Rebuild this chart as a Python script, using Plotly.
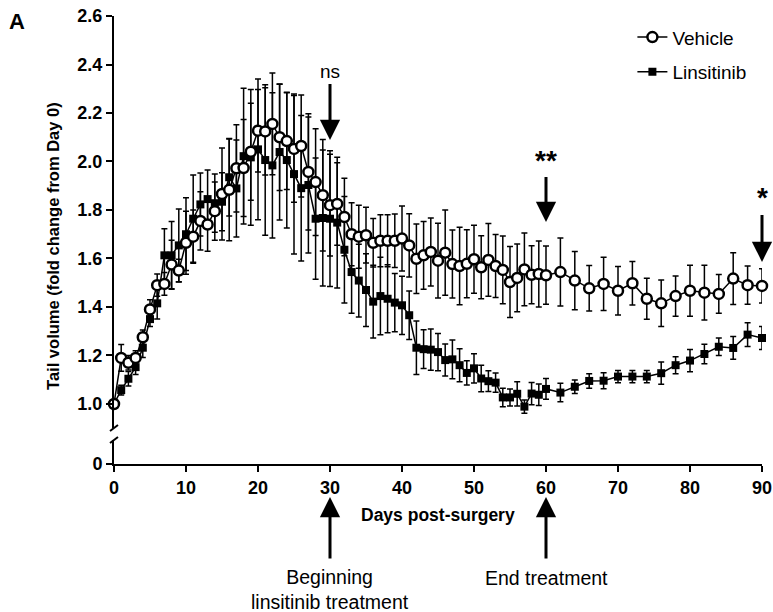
import plotly.graph_objects as go

# ---------------- data ----------------
days = list(range(0, 61)) + list(range(62, 91, 2))

vehicle = [1.0, 1.19, 1.17, 1.19, 1.275, 1.39, 1.49, 1.495, 1.575, 1.55,
           1.665, 1.69, 1.755, 1.74, 1.795, 1.866, 1.883, 1.972, 1.973, 2.04,
           2.127, 2.124, 2.155, 2.10, 2.084, 2.052, 2.064, 1.957, 1.915, 1.861,
           1.82, 1.825, 1.771, 1.70, 1.69, 1.696, 1.665, 1.673, 1.673, 1.673,
           1.682, 1.654, 1.599, 1.613, 1.627, 1.591, 1.624, 1.577, 1.569, 1.578,
           1.597, 1.564, 1.594, 1.569, 1.553, 1.503, 1.52, 1.555, 1.533, 1.536,
           1.531, 1.544, 1.509, 1.477, 1.495, 1.467, 1.498, 1.434, 1.415, 1.445,
           1.467, 1.459, 1.454, 1.517, 1.49, 1.487]
vehicle_err = [0.0, 0.055, 0.03, 0.03, 0.03, 0.04, 0.046, 0.047, 0.1, 0.047,
               0.13, 0.11, 0.12, 0.11, 0.12, 0.19, 0.21, 0.18, 0.2, 0.2,
               0.17, 0.18, 0.21, 0.22, 0.2, 0.22, 0.21, 0.24, 0.22, 0.23,
               0.21, 0.17, 0.16, 0.13, 0.13, 0.115, 0.1, 0.107, 0.107, 0.11,
               0.134, 0.13, 0.143, 0.14, 0.14, 0.154, 0.176, 0.14, 0.16, 0.14,
               0.14, 0.13, 0.15, 0.13, 0.14, 0.146, 0.14, 0.15, 0.12, 0.136,
               0.12, 0.14, 0.12, 0.094, 0.11, 0.1, 0.09, 0.085, 0.096, 0.083,
               0.105, 0.113, 0.08, 0.107, 0.079, 0.071]

linsitinib = [1.0, 1.057, 1.104, 1.152, 1.232, 1.35, 1.415, 1.613, 1.613, 1.654,
              1.70, 1.764, 1.823, 1.845, 1.828, 1.834, 1.935, 1.889, 2.022, 2.017,
              2.05, 2.006, 1.984, 2.039, 2.006, 1.948, 1.89, 1.903, 1.764, 1.767,
              1.764, 1.748, 1.636, 1.544, 1.509, 1.47, 1.422, 1.445, 1.434, 1.418,
              1.407, 1.366, 1.232, 1.226, 1.224, 1.214, 1.181, 1.184, 1.16, 1.128,
              1.147, 1.105, 1.094, 1.088, 1.027, 1.027, 1.042, 0.989, 1.043, 1.038,
              1.062, 1.047, 1.071, 1.095, 1.096, 1.113, 1.113, 1.113, 1.127, 1.16,
              1.179, 1.206, 1.236, 1.231, 1.286, 1.272]
linsitinib_err = [0.0, 0.02, 0.03, 0.03, 0.04, 0.03, 0.065, 0.11, 0.14, 0.15,
                  0.15, 0.18, 0.13, 0.12, 0.12, 0.12, 0.16, 0.2, 0.28, 0.28,
                  0.29, 0.31, 0.3, 0.28, 0.28, 0.33, 0.3, 0.28, 0.25, 0.28,
                  0.28, 0.27, 0.22, 0.17, 0.15, 0.15, 0.15, 0.16, 0.14, 0.12,
                  0.12, 0.1, 0.11, 0.08, 0.085, 0.077, 0.066, 0.08, 0.068, 0.05,
                  0.06, 0.055, 0.043, 0.04, 0.038, 0.035, 0.05, 0.027, 0.046, 0.044,
                  0.043, 0.038, 0.028, 0.03, 0.033, 0.025, 0.025, 0.025, 0.046, 0.035,
                  0.046, 0.04, 0.036, 0.047, 0.049, 0.047]

x_ticks = [0, 10, 20, 30, 40, 50, 60, 70, 80, 90]
y_ticks = [1.0, 1.2, 1.4, 1.6, 1.8, 2.0, 2.2, 2.4, 2.6]

FONT = "Liberation Sans, Arial, sans-serif"

fig = go.Figure()

fig.add_trace(go.Scatter(
    x=days, y=linsitinib, name="Linsitinib", mode="lines+markers",
    line=dict(color="black", width=1.5),
    marker=dict(symbol="square", size=8, color="black"),
    error_y=dict(type="data", array=linsitinib_err, color="black", thickness=1.5, width=3),
    legendrank=2, legendgroup="b", cliponaxis=False,
))
fig.add_trace(go.Scatter(
    x=days, y=vehicle, name="Vehicle", mode="lines+markers",
    line=dict(color="black", width=1.5),
    marker=dict(symbol="circle", size=10, color="white", line=dict(color="black", width=2.5)),
    error_y=dict(type="data", array=vehicle_err, color="black", thickness=1.5, width=3),
    legendrank=1, legendgroup="a", cliponaxis=False,
))
# empty trace on the lower (zero) axis segment so it renders
fig.add_trace(go.Scatter(x=[None], y=[None], yaxis="y2", showlegend=False))

main_bottom = 0.0804
low_top = 0.0536

TICKFONT = dict(size=18, family=FONT, weight="bold")

fig.update_layout(
    width=773, height=612,
    margin=dict(l=114, r=11, t=16, b=148),
    paper_bgcolor="white", plot_bgcolor="white",
    font=dict(family=FONT, color="black"),
    showlegend=True,
    legend=dict(x=0.80, y=0.995, xanchor="left", yanchor="top",
                font=dict(size=19, family=FONT), traceorder="grouped",
                tracegroupgap=7, bgcolor="rgba(0,0,0,0)"),
    xaxis=dict(range=[0, 90], tickvals=x_ticks, showline=True, linecolor="black",
               linewidth=2, ticks="outside", ticklen=6, tickwidth=2, tickcolor="black",
               showgrid=False, zeroline=False, anchor="y2", tickfont=TICKFONT,
               ticklabeloverflow="allow", automargin=False),
    yaxis=dict(domain=[main_bottom, 1], range=[0.901, 2.6], tickvals=y_ticks,
               tickformat=".1f", showline=True, linecolor="black", linewidth=2,
               ticks="outside", ticklen=6, tickwidth=2, tickcolor="black",
               showgrid=False, zeroline=False, tickfont=TICKFONT, automargin=False),
    yaxis2=dict(domain=[0, low_top], range=[0, 1], tickvals=[0], ticktext=["0"],
                showline=True, linecolor="black", linewidth=2,
                ticks="outside", ticklen=6, tickwidth=2, tickcolor="black",
                showgrid=False, zeroline=False, anchor="x", tickfont=TICKFONT,
                automargin=False),
)

# axis-break slashes
for yb in (main_bottom, low_top):
    fig.add_shape(type="line", xref="paper", yref="paper", xanchor=0, yanchor=yb,
                  xsizemode="pixel", ysizemode="pixel", x0=-4, x1=4, y0=-3, y1=3,
                  line=dict(color="black", width=2))

ann = []
ann.append(dict(text="<b>A</b>", xref="paper", yref="paper", x=-0.15, y=0.987,
                showarrow=False, font=dict(size=22, family=FONT), xanchor="center", yanchor="middle"))
ann.append(dict(text="<b>Tail volume (fold change from Day 0)</b>", xref="paper", yref="paper",
                x=-0.094, y=0.487, textangle=-90, showarrow=False, xanchor="center",
                yanchor="middle", font=dict(size=16.5, family=FONT)))
ann.append(dict(text="<b>Days post-surgery</b>", xref="paper", yref="paper",
                x=0.5, y=-0.114, showarrow=False, xanchor="center", yanchor="middle",
                font=dict(size=17.5, family=FONT)))

sig = [("ns", 30, 2.089, -68, dict(size=19)),
       ("<b>**</b>", 60, 1.75, -62, dict(size=28)),
       ("<b>*</b>", 90, 1.586, -64, dict(size=28))]
for txt, xd, yd, ay, f in sig:
    ann.append(dict(text=txt, x=xd, y=yd, xref="x", yref="y", ax=0, ay=ay,
                    showarrow=True, arrowhead=2, arrowsize=1.35, arrowwidth=3,
                    arrowcolor="black", font=dict(family=FONT, **f)))

for xd in (30, 60):
    ann.append(dict(text="", x=xd, y=-0.0737, xref="x", yref="paper", ax=0, ay=63,
                    showarrow=True, arrowhead=2, arrowsize=1.35, arrowwidth=3,
                    arrowcolor="black"))
ann.append(dict(text="Beginning<br>linsitinib treatment", x=30, y=-0.28, xref="x", yref="paper",
                showarrow=False, font=dict(size=19.5, family=FONT), xanchor="center",
                yanchor="middle"))
ann.append(dict(text="End treatment", x=60, y=-0.254, xref="x", yref="paper",
                showarrow=False, font=dict(size=19.5, family=FONT), xanchor="center",
                yanchor="middle"))

fig.update_layout(annotations=ann)

fig.write_html("out.html", config={"displayModeBar": False},
               post_script="document.body.style.margin='0';")
